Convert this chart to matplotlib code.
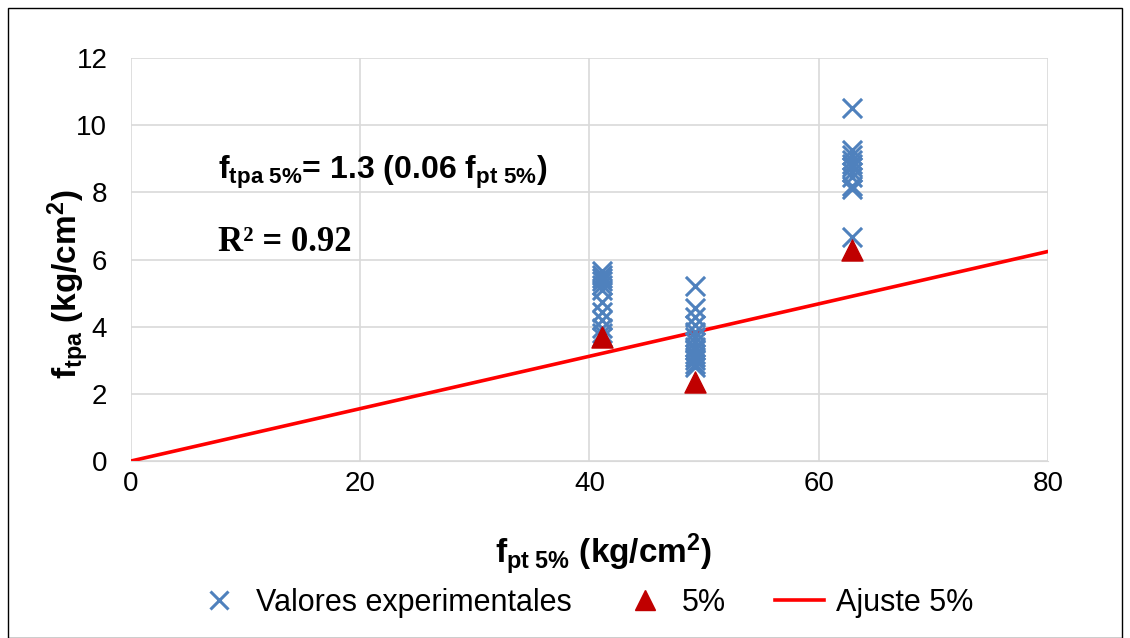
import matplotlib
matplotlib.use("Agg")
import matplotlib.pyplot as plt
from matplotlib.patches import Rectangle
from matplotlib.lines import Line2D

plt.rcParams["font.family"] = ["Liberation Sans", "DejaVu Sans"]
plt.rcParams["mathtext.fontset"] = "custom"
plt.rcParams["mathtext.rm"] = "Liberation Sans"
plt.rcParams["mathtext.bf"] = "Liberation Sans:bold"
plt.rcParams["mathtext.it"] = "Liberation Sans:italic"

# experimental values (x = f_pt 5%, y = f_tpa)
exp_x = [41.1] * 12 + [49.2] * 14 + [62.9] * 11
exp_y = [5.65, 5.55, 5.45, 5.35, 5.25, 5.1, 4.75, 4.45, 4.2, 3.95, 3.8, 3.7,
         5.2, 4.55, 4.3, 4.05, 3.85, 3.7, 3.55, 3.4, 3.3, 3.2, 3.1, 3.0, 2.9, 2.8,
         10.5, 9.25, 9.1, 8.95, 8.85, 8.75, 8.6, 8.45, 8.2, 8.1, 6.67]

# 5% characteristic values
p5_x = [41.1, 49.2, 62.9]
p5_y = [3.7, 2.35, 6.28]

# fit line f_tpa = 1.3 * 0.06 * f_pt
fit_x = [0, 80]
fit_y = [1.3 * 0.06 * v for v in fit_x]

fig = plt.figure(figsize=(11.3, 6.38), dpi=100)
fig.patches.append(Rectangle((0.007, 0.0), 0.986, 0.988, transform=fig.transFigure,
                             fill=False, edgecolor="black", linewidth=1.0))

ax = fig.add_axes([0.1159, 0.2774, 0.8115, 0.6316])
ax.plot(fit_x, fit_y, color="#ff0000", linewidth=2.6, zorder=2)
ax.scatter(exp_x, exp_y, marker="x", s=190, color="#4f81bd", linewidths=2.2, zorder=3)
ax.scatter(p5_x, p5_y, marker="^", s=230, color="#c00000", zorder=4)

ax.set_xlim(0, 80)
ax.set_ylim(0, 12)
ax.set_xticks(range(0, 81, 20))
ax.set_yticks(range(0, 13, 2))
ax.grid(True, color="#d9d9d9", linewidth=1.2)
ax.set_axisbelow(True)
for s in ["top", "right", "left"]:
    ax.spines[s].set_visible(False)
ax.spines["bottom"].set_color("#d9d9d9")
ax.tick_params(length=0, labelsize=20)
ax.tick_params(axis="y", pad=17)
ax.tick_params(axis="x", pad=7)

ax.set_xlabel(r"$\mathbf{f_{pt\ 5\%}\ (kg/cm^2)}$", fontsize=24)
ax.set_ylabel(r"$\mathbf{f_{tpa}\ (kg/cm^2)}$", fontsize=24)
ax.xaxis.set_label_coords(0.515, -0.175)
ax.yaxis.set_label_coords(-0.044, 0.44)

ax.text(7.6, 8.6, r"$\mathbf{f_{tpa\ 5\%}}$= 1.3 (0.06 $\mathbf{f_{pt\ 5\%}}$)",
        fontsize=23, fontweight="bold", va="center")
ax.text(7.6, 6.5, "R² = 0.92", fontsize=25, fontweight="bold",
        family=["Liberation Serif", "DejaVu Serif"], va="center")

handles = [
    Line2D([], [], linestyle="none", marker="x", markersize=13, markeredgewidth=2.2,
           color="#4f81bd", label="Valores experimentales"),
    Line2D([], [], linestyle="none", marker="^", markersize=14, color="#c00000", label="5%"),
    Line2D([], [], color="#ff0000", linewidth=2.6, label="Ajuste 5%"),
]
fig.legend(handles=handles, loc="center", bbox_to_anchor=(0.517, 0.055), ncol=3,
           frameon=False, fontsize=22, handlelength=1.6, handletextpad=0.4,
           columnspacing=1.6)

fig.savefig("out.png", dpi=100)
